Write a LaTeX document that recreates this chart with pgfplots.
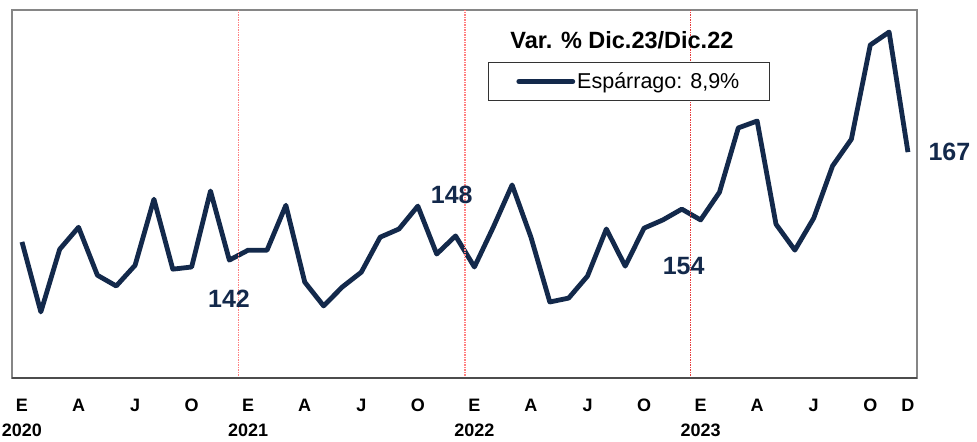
\documentclass[border=0pt]{standalone}
\usepackage{pgfplots}
\pgfplotsset{compat=1.18}
\usepackage{fontspec}
\setmainfont{Liberation Sans}
\definecolor{navy}{RGB}{19,41,75}
\definecolor{framegray}{RGB}{134,134,134}
\definecolor{sepred}{RGB}{230,60,60}
\newcommand{\m}[1]{#1\\\phantom{0}}

\begin{document}
\begin{tikzpicture}
\begin{axis}[
  name=ax,
  scale only axis,
  width=905pt, height=368pt,
  xmin=-0.53, xmax=47.48,
  ymin=114.7, ymax=199.9,
  axis line style={framegray, line width=1.5pt},
  ytick=\empty,
  xtick={0,3,6,9,12,15,18,21,24,27,30,33,36,39,42,45,47},
  xticklabels={{E\\2020},\m{A},\m{J},\m{O},{E\\2021},\m{A},\m{J},\m{O},{E\\2022},\m{A},\m{J},\m{O},{E\\2023},\m{A},\m{J},\m{O},\m{D}},
  xticklabel style={font=\bfseries\fontsize{18}{25}\selectfont, align=center, anchor=base, yshift=-58.5pt},
  major tick length=0pt,
  clip=false,
  legend style={at={(0.526,0.8587)}, anchor=north west, draw=black!80, line width=0.75pt,
    inner xsep=28pt, inner ysep=8.5pt, font=\fontsize{21.5}{24}\selectfont},
  legend cell align=left,
  legend image code/.code={\draw[#1, line width=4.8pt, line cap=round] (0pt,0pt) -- (54pt,0pt);},
]
\addplot[navy, line width=4.8pt, line join=round] coordinates {
  (0,146.2) (1,130.0) (2,144.5) (3,149.6) (4,138.5) (5,136.0) (6,140.8) (7,156.1)
  (8,139.9) (9,140.4) (10,158.0) (11,142.0)
  (12,144.3) (13,144.3) (14,154.7) (15,136.9) (16,131.4) (17,135.8) (18,139.2) (19,147.3)
  (20,149.2) (21,154.5) (22,143.4) (23,147.6)
  (24,140.4) (25,149.6) (26,159.4) (27,147.3) (28,132.3) (29,133.2) (30,138.3) (31,149.2)
  (32,140.6) (33,149.4) (34,151.3) (35,153.8)
  (36,151.3) (37,157.7) (38,172.6) (39,174.2) (40,150.3) (41,144.3) (42,151.7) (43,163.8)
  (44,170.0) (45,191.8) (46,194.8) (47,167.0)
};
\addlegendentry{Espárrago: 8,9\%}
% year separators
\draw[red!50, dash pattern=on 1.5pt off 1pt, line width=1.2pt] (axis cs:11.5,114.7) -- (axis cs:11.5,199.9);
\draw[red!50, dash pattern=on 1.5pt off 1pt, line width=1.2pt] (axis cs:23.5,114.7) -- (axis cs:23.5,199.9);
\draw[sepred, dash pattern=on 1.5pt off 1pt, line width=1.2pt] (axis cs:35.45,114.7) -- (axis cs:35.45,199.9);
\draw[black!70, line width=2pt] (rel axis cs:0,0) -- (rel axis cs:1,0);
\node[font=\bfseries\fontsize{23.5}{26}\selectfont] at (rel axis cs:0.674,0.918) {Var. \% Dic.23/Dic.22};
\node[navy, font=\bfseries\fontsize{25}{28}\selectfont] at (axis cs:10.98,133.0) {142};
\node[navy, font=\bfseries\fontsize{25}{28}\selectfont] at (axis cs:22.8,157.0) {148};
\node[navy, font=\bfseries\fontsize{25}{28}\selectfont] at (axis cs:35.1,140.6) {154};
\node[navy, font=\bfseries\fontsize{25}{28}\selectfont] at (axis cs:49.2,167.0) {167};
\end{axis}
\pgfresetboundingbox
\path ([xshift=-12pt,yshift=-63pt]ax.south west) rectangle ([xshift=60pt,yshift=10pt]ax.north east);
\end{tikzpicture}
\end{document}
